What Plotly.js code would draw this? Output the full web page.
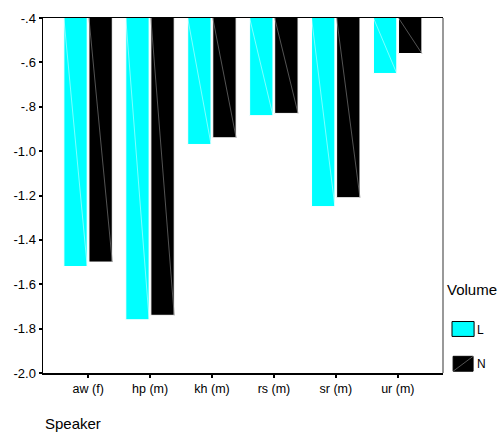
<!DOCTYPE html>
<html>
<head>
<meta charset="utf-8">
<script src="https://cdn.plot.ly/plotly-3.0.1.min.js"></script>
<style>html,body{margin:0;padding:0;background:#fff;}#chart{width:504px;height:432px;}</style>
</head>
<body>
<div id="chart"></div>
<script>
const speakers = ["aw (f)", "hp (m)", "kh (m)", "rs (m)", "sr (m)", "ur (m)"];
const valuesL = [-1.52, -1.76, -0.97, -0.84, -1.25, -0.65];
const valuesN = [-1.50, -1.74, -0.94, -0.83, -1.21, -0.56];
const seriesNames = ["L", "N"];
const yTickVals = [-2.0, -1.8, -1.6, -1.4, -1.2, -1.0, -0.8, -0.6, -0.4];
const yTickText = ["-2.0", "-1.8", "-1.6", "-1.4", "-1.2", "-1.0", "-.8", "-.6", "-.4"];
const legendTitle = "Volume";
const xTitle = "Speaker";

const FONT = "Liberation Sans, Arial, sans-serif";
const xs = speakers.map((_, i) => i);
const W = 0.377, offL = -0.393, offN = 0.012;
const TOP = -0.4;

function diag(vals, off) {
  const x = [], y = [];
  vals.forEach((v, i) => { x.push(i + off, i + off + W, null); y.push(TOP, v, null); });
  return {x, y};
}
const dL = diag(valuesL, offL), dN = diag(valuesN, offN);

const traces = [
  {type: "bar", x: xs, y: valuesL, name: seriesNames[0], width: W, offset: offL,
   marker: {color: "#00ffff", line: {color: "#ffffff", width: 1}}, showlegend: false},
  {type: "bar", x: xs, y: valuesN, name: seriesNames[1], width: W, offset: offN,
   marker: {color: "#000000", line: {color: "#ffffff", width: 1}}, showlegend: false},
  {type: "scatter", mode: "lines", x: dL.x, y: dL.y, line: {color: "rgba(255,255,255,0.7)", width: 0.7},
   showlegend: false, hoverinfo: "skip", connectgaps: false},
  {type: "scatter", mode: "lines", x: dN.x, y: dN.y, line: {color: "#777777", width: 0.7},
   showlegend: false, hoverinfo: "skip", connectgaps: false}
];

const layout = {
  width: 504, height: 432,
  margin: {l: 43, r: 61, t: 18, b: 59},
  paper_bgcolor: "#ffffff", plot_bgcolor: "#ffffff",
  barmode: "overlay",
  showlegend: false,
  font: {family: FONT, size: 13, color: "#000"},
  xaxis: {
    range: [-0.73, 5.73], tickvals: xs, ticktext: speakers,
    showline: true, mirror: true, linecolor: "#000", linewidth: 1.5,
    ticks: "outside", ticklen: 3, tickwidth: 2, tickcolor: "#000",
    showgrid: false, zeroline: false, layer: "below traces",
    tickfont: {family: FONT, size: 12.5, color: "#000"}, fixedrange: true
  },
  yaxis: {
    range: [-2.0, -0.4], tickvals: yTickVals, ticktext: yTickText,
    showline: true, linecolor: "#000", linewidth: 1.5,
    ticks: "outside", ticklen: 3, tickwidth: 2, tickcolor: "#000",
    showgrid: false, zeroline: false,
    tickfont: {family: FONT, size: 13, color: "#000"}, fixedrange: true
  },
  shapes: [
    {type: "line", xref: "paper", yref: "paper", x0: 1, x1: 1, y0: 0, y1: 1,
     line: {color: "#555555", width: 1.2}},
    {type: "rect", xref: "paper", yref: "paper", x0: 1.0225, x1: 1.0777, y0: 0.103, y1: 0.145,
     fillcolor: "#00ffff", line: {color: "#000", width: 1}},
    {type: "rect", xref: "paper", yref: "paper", x0: 1.0253, x1: 1.0752, y0: 0.005, y1: 0.047,
     fillcolor: "#000000", line: {color: "#000", width: 1}},
    {type: "line", xref: "paper", yref: "paper", x0: 1.0253, x1: 1.0752, y0: 0.005, y1: 0.047,
     line: {color: "#777777", width: 0.7}}
  ],
  annotations: [
    {xref: "paper", yref: "paper", x: 0, y: -0.143, xanchor: "left", yanchor: "middle",
     text: xTitle, showarrow: false, font: {family: FONT, size: 15, color: "#000"}},
    {xref: "paper", yref: "paper", x: 1.005, y: 0.235, xanchor: "left", yanchor: "middle",
     text: legendTitle, showarrow: false, font: {family: FONT, size: 15, color: "#000"}},
    {xref: "paper", yref: "paper", x: 1.08, y: 0.122, xanchor: "left", yanchor: "middle",
     text: seriesNames[0], showarrow: false, font: {family: FONT, size: 12, color: "#000"}},
    {xref: "paper", yref: "paper", x: 1.08, y: 0.024, xanchor: "left", yanchor: "middle",
     text: seriesNames[1], showarrow: false, font: {family: FONT, size: 12, color: "#000"}}
  ]
};

Plotly.newPlot("chart", traces, layout, {displayModeBar: false, staticPlot: true});
</script>
</body>
</html>
